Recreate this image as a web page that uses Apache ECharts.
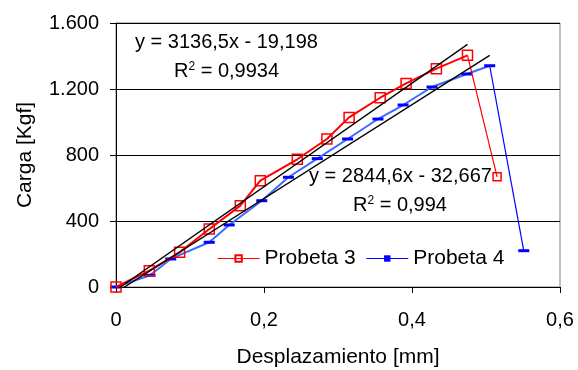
<!DOCTYPE html>
<html>
<head>
<meta charset="utf-8">
<script src="https://cdn.jsdelivr.net/npm/echarts@6/dist/echarts.min.js"></script>
<style>
  html, body { margin: 0; padding: 0; background: #fff; }
  #chart { width: 578px; height: 370px; }
</style>
</head>
<body>
<div id="chart"></div>
<script>
// Probeta 3: loading curve, then the drop after failure
const probeta3 = [
  [0, 0], [0.045, 99], [0.086, 210], [0.126, 351], [0.168, 493],
  [0.195, 644], [0.245, 774], [0.285, 897], [0.315, 1028], [0.357, 1147],
  [0.392, 1234], [0.433, 1323], [0.475, 1404],
];
const probeta3Drop = [[0.475, 1404], [0.515, 668]];

// Probeta 4
const probeta4 = [
  [0, 0], [0.046, 71], [0.074, 170], [0.126, 271], [0.153, 376],
  [0.197, 523], [0.233, 665], [0.272, 778], [0.313, 897], [0.354, 1018],
  [0.388, 1103], [0.427, 1212], [0.474, 1291], [0.505, 1341],
];
const probeta4Drop = [[0.505, 1341], [0.551, 220]];

// linear trendline endpoints (from the fitted equations shown)
const trend3 = [[0, -19.2], [0.475, 1470.6]];
const trend4 = [[0, -32.7], [0.505, 1403.8]];

const eq3 = ['y = 3136,5x - 19,198', '0,9934'];
const eq4 = ['y = 2844,6x - 32,667', '0,994'];

const yTicks = { min: 0, max: 1600, interval: 400 };
const xTicks = { min: 0, max: 0.6, interval: 0.2 };

const FONT = "'Liberation Sans', Arial, sans-serif";
const RED = '#ff0000';
const BLUE = '#0000ff';
const BLUE_LINE = '#3a6bff';

const chart = echarts.init(document.getElementById('chart'));

function fmtY(v) {
  if (v >= 1000) return Math.floor(v / 1000) + '.' + String(v % 1000).padStart(3, '0');
  return String(v);
}
function fmtX(v) {
  if (v === 0) return '0';
  return (+v.toFixed(1)).toString().replace('.', ',');
}

// the drop segment starts on the last point of the main curve; hide its first marker
function dropData(pts) {
  return pts.map((p, i) => (i === 0 ? { value: p, symbol: 'none' } : p));
}

const r2Rich = {
  a: { fontSize: 20, fontFamily: FONT, verticalAlign: 'bottom' },
  s: { fontSize: 12, fontFamily: FONT, verticalAlign: 'top', lineHeight: 12 },
};

chart.setOption({
  animation: false,
  grid: {
    left: 116, right: 18, top: 23, bottom: 83,
    outerBoundsMode: 'none',
    show: true, borderColor: '#808080', borderWidth: 1,
  },
  legend: {
    left: 212, top: 243,
    itemWidth: 42, itemHeight: 8, itemGap: 10,
    textStyle: { fontFamily: FONT, fontSize: 21, color: '#000' },
    data: [
      { name: 'Probeta 3', lineStyle: { width: 1.2 } },
      { name: 'Probeta 4', lineStyle: { width: 1.2, color: BLUE } },
    ],
  },
  xAxis: {
    type: 'value',
    min: xTicks.min, max: xTicks.max, interval: xTicks.interval,
    name: 'Desplazamiento [mm]',
    nameLocation: 'middle', nameGap: 60,
    nameTextStyle: { fontFamily: FONT, fontSize: 21, color: '#000' },
    axisLine: { onZero: false, lineStyle: { color: '#000', width: 1 } },
    axisTick: { show: true, inside: false, length: 6, lineStyle: { color: '#000' } },
    axisLabel: { formatter: fmtX, fontFamily: FONT, fontSize: 20, color: '#000', margin: 23 },
    splitLine: { show: false },
  },
  yAxis: {
    type: 'value',
    min: yTicks.min, max: yTicks.max, interval: yTicks.interval,
    name: 'Carga [Kgf]',
    nameLocation: 'middle', nameGap: 80,
    nameTextStyle: { fontFamily: FONT, fontSize: 21, color: '#000' },
    axisLine: { show: true, lineStyle: { color: '#000', width: 1 } },
    axisTick: { show: true, inside: false, length: 6, lineStyle: { color: '#000' } },
    axisLabel: { formatter: fmtY, fontFamily: FONT, fontSize: 20, color: '#000', margin: 17 },
    splitLine: { show: true, lineStyle: { color: '#000', width: 1 } },
  },
  graphic: [
    { type: 'text', left: 135, top: 32, z: 50,
      style: { text: eq3[0], font: '20px ' + FONT, fill: '#000' } },
    { type: 'text', left: 174, top: 61, z: 50,
      style: { text: '{a|R}{s|2}{a| = ' + eq3[1] + '}', font: '20px ' + FONT, fill: '#000', rich: r2Rich } },
    { type: 'text', left: 309, top: 166, z: 50,
      style: { text: eq4[0], font: '20px ' + FONT, fill: '#000' } },
    { type: 'text', left: 353, top: 195, z: 50,
      style: { text: '{a|R}{s|2}{a| = ' + eq4[1] + '}', font: '20px ' + FONT, fill: '#000', rich: r2Rich } },
  ],
  series: [
    {
      name: 'Probeta 3', type: 'line', data: probeta3, z: 3,
      symbol: 'rect', symbolSize: 10, showAllSymbol: true,
      lineStyle: { color: RED, width: 2 },
      itemStyle: { color: 'rgba(255,255,255,0)', borderColor: RED, borderWidth: 1.5 },
    },
    {
      name: 'Probeta 3 caída', type: 'line', data: dropData(probeta3Drop), z: 3,
      symbol: 'rect', symbolSize: 8,
      lineStyle: { color: RED, width: 1.2 },
      itemStyle: { color: 'rgba(255,255,255,0)', borderColor: RED, borderWidth: 1.5 },
    },
    {
      name: 'Probeta 4', type: 'line', data: probeta4, z: 2,
      symbol: 'rect', symbolSize: [11, 3], showAllSymbol: true,
      lineStyle: { color: BLUE_LINE, width: 2 },
      itemStyle: { color: BLUE },
    },
    {
      name: 'Probeta 4 caída', type: 'line', data: dropData(probeta4Drop), z: 2,
      symbol: 'rect', symbolSize: [11, 3],
      lineStyle: { color: BLUE, width: 1.2 },
      itemStyle: { color: BLUE },
    },
    {
      name: 'Tendencia 3', type: 'line', data: trend3, z: 5, clip: true,
      symbol: 'none', lineStyle: { color: '#000', width: 1.3 },
    },
    {
      name: 'Tendencia 4', type: 'line', data: trend4, z: 5, clip: true,
      symbol: 'none', lineStyle: { color: '#000', width: 1.3 },
    },
  ],
});
</script>
</body>
</html>
